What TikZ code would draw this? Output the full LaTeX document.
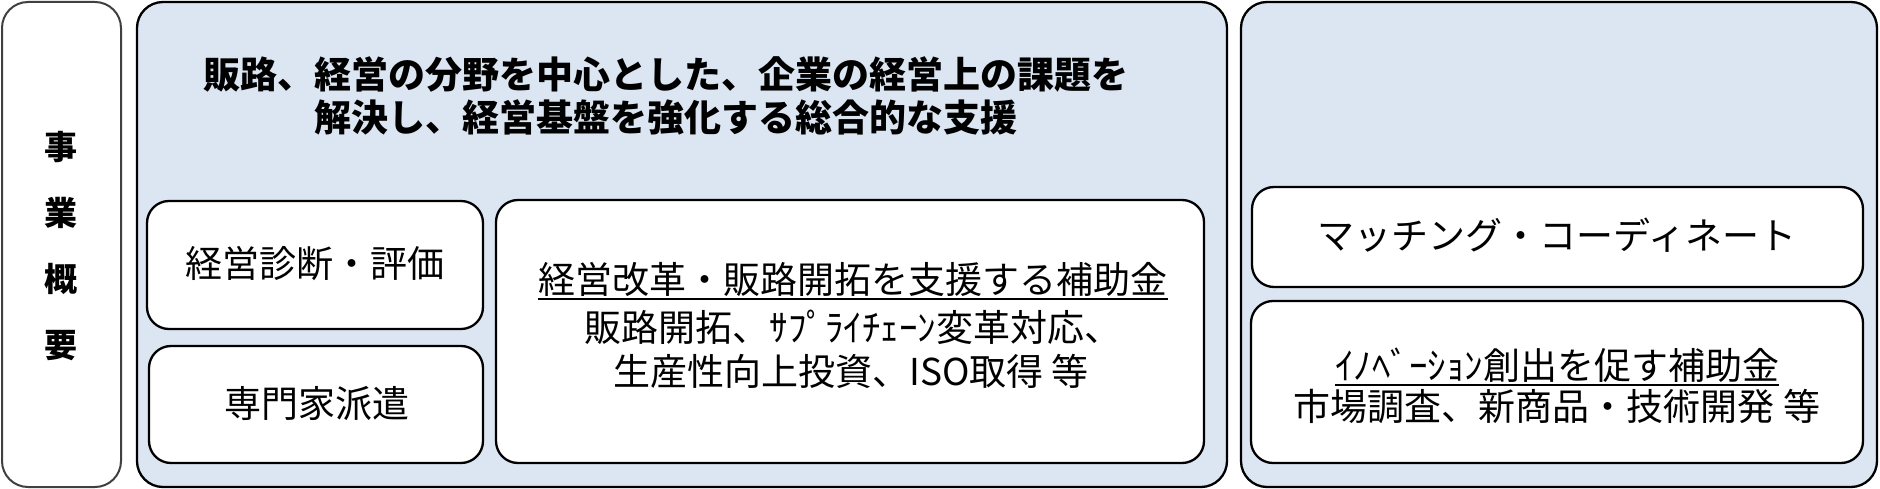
\documentclass[tikz,border=0pt]{standalone}
\usepackage{fontspec}
\setmainfont{Noto Sans CJK JP}
\definecolor{panelblue}{HTML}{DCE6F2}
\definecolor{framegray}{HTML}{404040}
\begin{document}
\begin{tikzpicture}[x=1pt,y=-1pt,
  boxbase/.style={anchor=north west, inner sep=0pt, outer sep=0pt, line width=2.3pt, rounded corners=22pt},
  sidebox/.style={boxbase, draw=framegray, line width=2pt, fill=white, rounded corners=26pt},
  panel/.style={boxbase, draw=black, fill=panelblue, rounded corners=26pt},
  card/.style={boxbase, draw=black, fill=white},
  lbl/.style={inner sep=0pt, font=\fontsize{37}{45}\selectfont, align=center},
  ttl/.style={inner sep=0pt, font=\fontsize{37}{43}\selectfont\bfseries, align=center},
  vlbl/.style={inner sep=0pt, font=\fontsize{33}{66}\selectfont\bfseries, align=center},
  uline/.style={line width=2pt},
]
\useasboundingbox (0,0) rectangle (1880,489);
% frames
\node[sidebox, minimum width=119pt, minimum height=485pt] (side) at (2,2) {};
\node[panel, minimum width=1090pt, minimum height=485pt] (main) at (137,2) {};
\node[panel, minimum width=636pt, minimum height=485pt] (right) at (1241,2) {};
% cards
\node[card, minimum width=336pt, minimum height=128pt] (diag) at (147,201) {};
\node[card, minimum width=334pt, minimum height=117pt] (expert) at (149,346) {};
\node[card, minimum width=708pt, minimum height=263pt] (subsidy) at (496,200) {};
\node[card, minimum width=611pt, minimum height=100pt] (match) at (1252,187) {};
\node[card, minimum width=612pt, minimum height=162pt] (innov) at (1251,301) {};
% texts
\node[vlbl] (sidetext) at (61,246) {事\\業\\概\\要};
\node[ttl] (title) at (666,96) {販路、経営の分野を中心とした、企業の経営上の課題を\\解決し、経営基盤を強化する総合的な支援};
\node[lbl] (diagtext) at (315,264) {経営診断・評価};
\node[lbl] (experttext) at (317,404) {専門家派遣};
\node[lbl] (subA) at (853,279) {経営改革・販路開拓を支援する補助金};
\node[lbl] (subB) at (853,327) {販路開拓、ｻﾌﾟﾗｲﾁｪｰﾝ変革対応、};
\node[lbl] (subC) at (851,371) {生産性向上投資、ISO取得 等};
\node[lbl] (matchtext) at (1557,235) {マッチング・コーディネート};
\node[lbl] (innA) at (1557,365) {ｲﾉﾍﾞｰｼｮﾝ創出を促す補助金};
\node[lbl] (innB) at (1557,406) {市場調査、新商品・技術開発 等};
% underlines
\draw[uline] ([yshift=-6pt]subA.base west) -- ([yshift=-6pt]subA.base east);
\draw[uline] ([yshift=-6pt]innA.base west) -- ([yshift=-6pt]innA.base east);
\end{tikzpicture}
\end{document}
